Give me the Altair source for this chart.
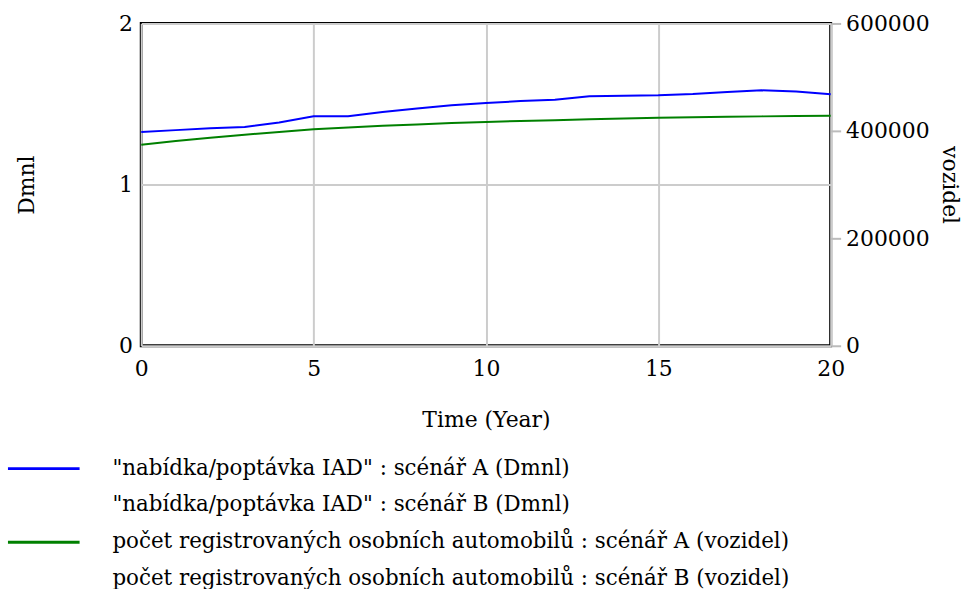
import altair as alt
import pandas as pd

# ---- data ----
time = list(range(0, 21))
nabidka_A = [1.327, 1.338, 1.350, 1.358, 1.385, 1.424, 1.424, 1.450, 1.472, 1.492,
             1.506, 1.518, 1.527, 1.548, 1.552, 1.554, 1.562, 1.575, 1.585, 1.578, 1.560]
pocet_A = [374000, 381000, 387000, 393000, 398000, 403000, 406500, 409500, 412000, 414500,
           416500, 418500, 420000, 421500, 423000, 424500, 425500, 426500, 427000, 427500, 428000]

legend_labels = [
    '"nabídka/poptávka IAD" : scénář A (Dmnl)',
    '"nabídka/poptávka IAD" : scénář B (Dmnl)',
    'počet registrovaných osobních automobilů : scénář A (vozidel)',
    'počet registrovaných osobních automobilů : scénář B (vozidel)',
]
legend_colors = ["#0000ff", "transparent", "#008000", "transparent"]

x_ticks = [0, 5, 10, 15, 20]
left_ticks = [0, 1, 2]
right_ticks = [0, 200000, 400000, 600000]

FONT = "DejaVu Serif"
FS = 22

df_left = pd.DataFrame({"t": time, "v": nabidka_A})
df_right = pd.DataFrame({"t": time, "v": pocet_A})
df_leg = pd.DataFrame({"label": legend_labels, "c": legend_colors})

x_enc = alt.X("t:Q", scale=alt.Scale(domain=[0, 20], nice=False),
              axis=alt.Axis(values=x_ticks, title="Time (Year)", grid=True,
                            gridColor="#cccccc", gridWidth=2, ticks=False, domain=False,
                            labelPadding=13, titlePadding=30, labelFlush=False,
                            labelOverlap=False))

left = alt.Chart(df_left).mark_line(color="#0000ff", strokeWidth=2).encode(
    x=x_enc,
    y=alt.Y("v:Q", scale=alt.Scale(domain=[0, 2], nice=False, zero=True),
            axis=alt.Axis(values=left_ticks, title="Dmnl", grid=True, gridColor="#cccccc",
                          gridWidth=2, ticks=False, domain=False, labelPadding=9,
                          titlePadding=80, labelFlush=False, labelOverlap=False,
                          format=".0f")),
)

right = alt.Chart(df_right).mark_line(color="#008000", strokeWidth=2).encode(
    x=x_enc,
    y=alt.Y("v:Q", scale=alt.Scale(domain=[0, 600000], nice=False),
            axis=alt.Axis(values=right_ticks, title="vozidel", orient="right", grid=False,
                          ticks=True, tickColor="#bbbbbb", tickSize=10, tickWidth=2,
                          domain=False, labelPadding=5, titlePadding=8,
                          labelFlush=False, labelOverlap=False, format=".0f")),
)

main = alt.layer(left, right).resolve_scale(y="independent").properties(
    width=693, height=324,
    view=alt.ViewBackground(stroke="black", strokeWidth=3),
)

leg_y = alt.Y("label:N", sort=legend_labels, axis=None,
              scale=alt.Scale(paddingInner=0, paddingOuter=0))
leg_color = alt.Color("c:N", scale=None, legend=None)

leg_rule = alt.Chart(df_leg).mark_rule(strokeWidth=3).encode(
    x=alt.value(-134), x2=alt.value(-62), y=leg_y, color=leg_color)
leg_text = alt.Chart(df_leg).mark_text(
    align="left", baseline="middle", font=FONT, fontSize=21.5, color="black").encode(
    x=alt.value(-29), y=leg_y, text="label:N")

legend = alt.layer(leg_rule, leg_text).properties(
    width=693, height=148,
    view=alt.ViewBackground(stroke="transparent"),
)

chart = alt.vconcat(main, legend, spacing=17).properties(
    padding={"left": 6, "top": 9, "right": 0, "bottom": 0},
).configure_axis(
    labelFont=FONT, labelFontSize=FS, labelColor="black",
    titleFont=FONT, titleFontSize=FS, titleFontWeight="normal", titleColor="black",
).configure_text(font=FONT).configure_view(stroke="transparent")

chart.save("out.html", embed_options={"renderer": "svg", "actions": False})
